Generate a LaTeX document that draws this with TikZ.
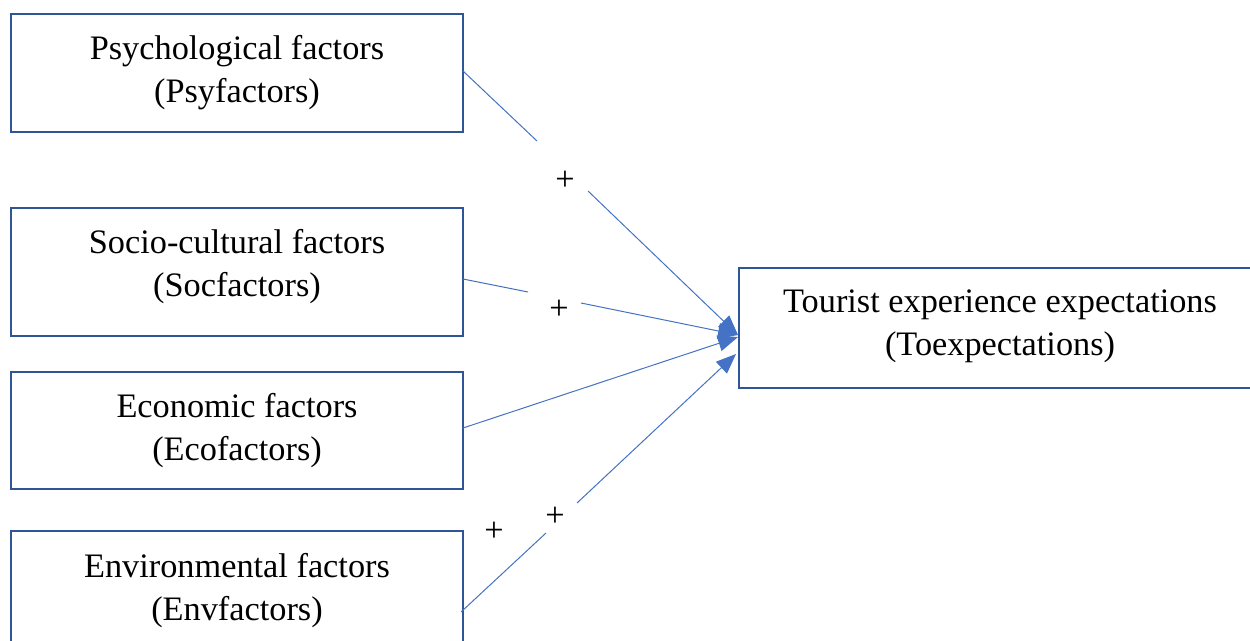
\documentclass[tikz,border=0pt]{standalone}
\usepackage{fontspec}
\setmainfont{Liberation Serif}
\usetikzlibrary{arrows.meta}
\definecolor{boxblue}{HTML}{2F5597}
\definecolor{lineblue}{HTML}{4472C4}
\begin{document}
\begin{tikzpicture}[x=1pt,y=-1pt,
  boxfont/.style={font=\fontsize{34.3}{43}\selectfont},
  fbox/.style={draw=boxblue,line width=2.2pt,minimum width=452pt,align=center,
    boxfont,inner sep=0pt},
  conn/.style={draw=lineblue,line width=1pt},
  tip/.style={-{Triangle[length=20pt,width=16pt]}},
  plus/.style={boxfont,inner sep=0pt,yshift=-3pt}]
\useasboundingbox (0,0) rectangle (1250,640);
\node[fbox,minimum height=118pt] (p1) at (237,73) {Psychological factors\\(Psyfactors)};
\node[fbox,minimum height=128pt,
  label={[boxfont,align=center,yshift=5pt]center:Socio-cultural factors\\(Socfactors)}] (p2) at (237,272) {};
\node[fbox,minimum height=117pt] (p3) at (237,430.5) {Economic factors\\(Ecofactors)};
\node[fbox,minimum height=120pt] (p4) at (237,591) {Environmental factors\\(Envfactors)};
\node[fbox,minimum width=522pt,minimum height=120pt,
  label={[boxfont,align=center,yshift=2pt]center:Tourist experience expectations\\(Toexpectations)}] (t) at (1000,328) {};
% connector points
\coordinate (s1) at (463,71);
\coordinate (a1) at (537,141);
\coordinate (b1) at (588,191);
\coordinate (e1) at (738,335);
\coordinate (s2) at (463,279);
\coordinate (a2) at (528,292);
\coordinate (b2) at (581,303);
\coordinate (e2) at (738,335);
\coordinate (s3) at (463,428);
\coordinate (e3) at (738,337);
\coordinate (s4) at (461,612);
\coordinate (a4) at (546,533);
\coordinate (b4) at (577,503);
\coordinate (e4) at (736,354);
\draw[conn] (s1) -- (a1);
\draw[conn,tip,lineblue] (b1) -- (e1);
\draw[conn] (s2) -- (a2);
\draw[conn,tip,lineblue] (b2) -- (e2);
\draw[conn,tip,lineblue] (s3) -- (e3);
\draw[conn] (s4) -- (a4);
\draw[conn,tip,lineblue] (b4) -- (e4);
\node[plus] (l1) at (565,178) {+};
\node[plus] (l2) at (559,307) {+};
\node[plus] (l4) at (555,514) {+};
\node[plus] (l5) at (494,529) {+};
\end{tikzpicture}
\end{document}
